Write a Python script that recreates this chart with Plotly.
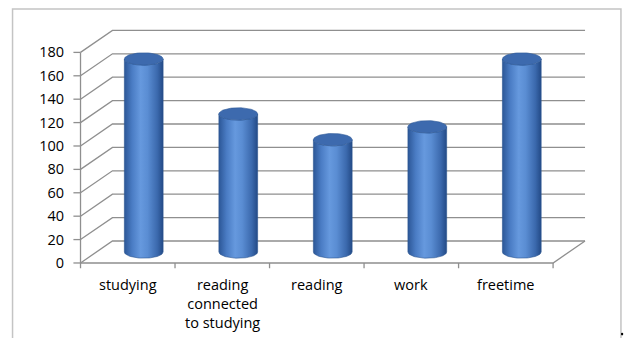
import numpy as np
import plotly.graph_objects as go

categories = ["studying", "reading<br>connected<br>to studying", "reading", "work", "freetime"]
values = [165, 118, 96, 107, 165]
y_ticks = [0, 20, 40, 60, 80, 100, 120, 140, 160, 180]

# oblique "3D" depth offsets in data units
DX = 0.338
DY = 18.8
RX = 0.205
RY = 5.3
GRID = "#8f8f8f"

fig = go.Figure()
shapes = []

# back wall + side wall gridlines
for v in y_ticks:
    shapes.append(dict(type="path", xref="x", yref="y",
                       path=f"M 0,{v} L {DX},{v+DY} L {len(categories)+DX},{v+DY}",
                       line=dict(color=GRID, width=1.3), layer="below"))
# floor
n = len(categories)
shapes.append(dict(type="path", xref="x", yref="y",
                   path=f"M 0,0 L {n},0 L {n+DX},{DY}",
                   line=dict(color=GRID, width=1.3), layer="below"))
# front vertical axis
shapes.append(dict(type="line", xref="x", yref="y", x0=0, x1=0, y0=0, y1=y_ticks[-1],
                   line=dict(color=GRID, width=1.3), layer="below"))
# y tick marks
for v in y_ticks:
    shapes.append(dict(type="line", xref="x", yref="y", x0=-0.075, x1=0, y0=v, y1=v,
                       line=dict(color=GRID, width=1.3), layer="below"))
# category tick marks
for k in range(n + 1):
    shapes.append(dict(type="line", xref="x", yref="y", x0=k, x1=k, y0=0, y1=-4.5,
                       line=dict(color=GRID, width=1.3), layer="below"))

# cylinders
t = np.linspace(0, np.pi, 40)
tt = np.linspace(0, 2 * np.pi, 80)
for k, v in enumerate(values):
    cx = k + 0.5 + DX / 2
    base = DY / 2
    top = v + DY / 2
    xs = [cx - RX, cx - RX]
    ys = [base, top]
    xs += list(cx - RX * np.cos(t))
    ys += list(top - RY * np.sin(t))
    xs += [cx + RX, cx + RX]
    ys += [top, base]
    xs += list(cx + RX * np.cos(t))
    ys += list(base - RY * np.sin(t))
    fig.add_trace(go.Scatter(
        x=xs, y=ys, fill="toself", mode="lines",
        line=dict(color="#2b5590", width=0.6),
        fillgradient=dict(type="horizontal",
                          colorscale=[[0, "#2c5797"], [0.2, "#4a7cc4"], [0.42, "#6699de"],
                                      [0.6, "#5a8dd3"], [0.85, "#3b69ad"], [1, "#234a86"]]),
        hoverinfo="skip", showlegend=False))
    fig.add_trace(go.Scatter(
        x=list(cx + RX * np.cos(tt)), y=list(top + RY * np.sin(tt)),
        fill="toself", mode="lines", line=dict(color="#2f5b98", width=0.6),
        fillcolor="#3d6aae", hoverinfo="skip", showlegend=False))

# category labels
annotations = []
for k, c in enumerate(categories):
    annotations.append(dict(x=k + 0.5, y=-0.012, xref="x", yref="paper", text=c,
                            showarrow=False, yanchor="top", xanchor="center",
                            font=dict(family="Open Sans", size=14.5, color="#000000")))

# outer frame (left, top, right)
shapes.append(dict(type="path", xref="paper", yref="paper",
                   path="M -0.115,-0.282 L -0.115,1.083 L 1.0618,1.083 L 1.0618,-0.282",
                   line=dict(color="#c4c4c4", width=1.5)))
# small mark at the lower right of the frame
shapes.append(dict(type="circle", xref="paper", yref="paper",
                   x0=1.0618, x1=1.0662, y0=-0.272, y1=-0.260,
                   fillcolor="#000000", line=dict(width=0)))

fig.update_layout(
    width=639, height=351,
    margin=dict(l=71.5, r=50, t=29, b=81),
    paper_bgcolor="white", plot_bgcolor="white",
    shapes=shapes, annotations=annotations,
    xaxis=dict(range=[-0.09, 5.38], showgrid=False, zeroline=False,
               showticklabels=False, ticks="", fixedrange=True),
    yaxis=dict(range=[-6, 200], showgrid=False, zeroline=False,
               tickvals=y_ticks, ticks="", ticklabelstandoff=7,
               tickfont=dict(family="Open Sans", size=14.5, color="#000000")),
)

fig.write_html("out.html")
